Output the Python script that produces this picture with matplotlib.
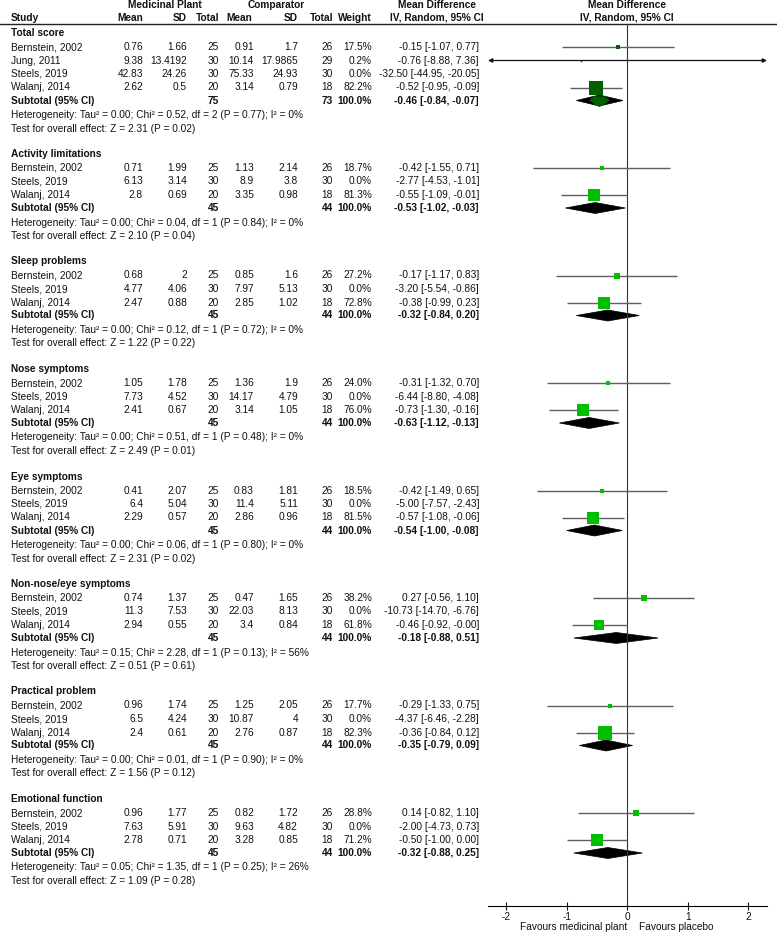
import matplotlib
matplotlib.use("Agg")
import matplotlib.pyplot as plt
from matplotlib.patches import Polygon

plt.rcParams['font.family'] = ['Liberation Sans', 'DejaVu Sans']

# ---- data ----
outcomes = ["Total score", "Activity limitations", "Sleep problems", "Nose symptoms",
            "Eye symptoms", "Non-nose/eye symptoms", "Practical problem", "Emotional function"]

study_outcome = [0, 0, 0, 0, 1, 1, 1, 2, 2, 2, 3, 3, 3, 4, 4, 4, 5, 5, 5, 6, 6, 6, 7, 7, 7]
study_name = ["Bernstein, 2002", "Jung, 2011", "Steels, 2019", "Walanj, 2014"] + \
             ["Bernstein, 2002", "Steels, 2019", "Walanj, 2014"] * 7

mp_mean = [0.76, 9.38, 42.83, 2.62, 0.71, 6.13, 2.8, 0.68, 4.77, 2.47, 1.05, 7.73, 2.41,
           0.41, 6.4, 2.29, 0.74, 11.3, 2.94, 0.96, 6.5, 2.4, 0.96, 7.63, 2.78]
mp_sd = [1.66, 13.4192, 24.26, 0.5, 1.99, 3.14, 0.69, 2, 4.06, 0.88, 1.78, 4.52, 0.67,
         2.07, 5.04, 0.57, 1.37, 7.53, 0.55, 1.74, 4.24, 0.61, 1.77, 5.91, 0.71]
mp_n = [25, 30, 30, 20] + [25, 30, 20] * 7
cp_mean = [0.91, 10.14, 75.33, 3.14, 1.13, 8.9, 3.35, 0.85, 7.97, 2.85, 1.36, 14.17, 3.14,
           0.83, 11.4, 2.86, 0.47, 22.03, 3.4, 1.25, 10.87, 2.76, 0.82, 9.63, 3.28]
cp_sd = [1.7, 17.9865, 24.93, 0.79, 2.14, 3.8, 0.98, 1.6, 5.13, 1.02, 1.9, 4.79, 1.05,
         1.81, 5.11, 0.96, 1.65, 8.13, 0.84, 2.05, 4, 0.87, 1.72, 4.82, 0.85]
cp_n = [26, 29, 30, 18] + [26, 30, 18] * 7
weight = [17.5, 0.2, 0.0, 82.2, 18.7, 0.0, 81.3, 27.2, 0.0, 72.8, 24.0, 0.0, 76.0,
          18.5, 0.0, 81.5, 38.2, 0.0, 61.8, 17.7, 0.0, 82.3, 28.8, 0.0, 71.2]
md = [-0.15, -0.76, -32.50, -0.52, -0.42, -2.77, -0.55, -0.17, -3.20, -0.38, -0.31, -6.44, -0.73,
      -0.42, -5.00, -0.57, 0.27, -10.73, -0.46, -0.29, -4.37, -0.36, 0.14, -2.00, -0.50]
md_lo = [-1.07, -8.88, -44.95, -0.95, -1.55, -4.53, -1.09, -1.17, -5.54, -0.99, -1.32, -8.80, -1.30,
         -1.49, -7.57, -1.08, -0.56, -14.70, -0.92, -1.33, -6.46, -0.84, -0.82, -4.73, -1.00]
md_hi = [0.77, 7.36, -20.05, -0.09, 0.71, -1.01, -0.01, 0.83, -0.86, 0.23, 0.70, -4.08, -0.16,
         0.65, -2.43, -0.06, 1.10, -6.76, -0.0, 0.75, -2.28, 0.12, 1.10, 0.73, 0.0]

sub_n_mp = [75, 45, 45, 45, 45, 45, 45, 45]
sub_n_cp = [73, 44, 44, 44, 44, 44, 44, 44]
sub_md = [-0.46, -0.53, -0.32, -0.63, -0.54, -0.18, -0.35, -0.32]
sub_lo = [-0.84, -1.02, -0.84, -1.12, -1.00, -0.88, -0.79, -0.88]
sub_hi = [-0.07, -0.03, 0.20, -0.13, -0.08, 0.51, 0.09, 0.25]
het_tau2 = [0.00, 0.00, 0.00, 0.00, 0.00, 0.15, 0.00, 0.05]
het_chi2 = [0.52, 0.04, 0.12, 0.51, 0.06, 2.28, 0.01, 1.35]
het_df = [2, 1, 1, 1, 1, 1, 1, 1]
het_p = [0.77, 0.84, 0.72, 0.48, 0.80, 0.13, 0.90, 0.25]
het_i2 = [0, 0, 0, 0, 0, 56, 0, 26]
z_val = [2.31, 2.10, 1.22, 2.49, 2.31, 0.51, 1.56, 1.09]
z_p = [0.02, 0.04, 0.22, 0.01, 0.02, 0.61, 0.12, 0.28]

x_ticks = [-2, -1, 0, 1, 2]

# ---- layout (pixel units, figure is 777 x 933) ----
W, H = 777, 933
FS = 7.3
TXT = '#111111'
GREEN = '#00BE00'
DARK_GREEN = '#006000'
LINE = '#5f5f5f'
X_MIN, X_MAX = -2.3, 2.31
PANEL_L, PANEL_R = 488, 767
HEAD_LINE, AXIS_Y = 24, 906

fig = plt.figure(figsize=(W / 100, H / 100), dpi=100)
ax_t = fig.add_axes([0, 0, 1, 1])
ax_t.set_xlim(0, W)
ax_t.set_ylim(H, 0)
ax_t.axis('off')

ax_p = fig.add_axes([PANEL_L / W, 1 - AXIS_Y / H, (PANEL_R - PANEL_L) / W, (AXIS_Y - HEAD_LINE) / H])
ax_p.set_xlim(X_MIN, X_MAX)
ax_p.set_ylim(AXIS_Y, HEAD_LINE)
ax_p.patch.set_visible(False)
for s in ['top', 'left', 'right']:
    ax_p.spines[s].set_visible(False)
ax_p.spines['bottom'].set_linewidth(0.8)
ax_p.set_yticks([])
ax_p.set_xticks(x_ticks)
ax_p.set_xticklabels([str(t) for t in x_ticks])
ax_p.tick_params(axis='x', direction='inout', length=6, width=0.8, labelsize=FS, pad=1.5, colors='#111111')
ax_p.axvline(0, color='#333333', lw=0.8)

# column right edges
C_MP_MEAN, C_MP_SD, C_MP_N = 143, 187, 219
C_CP_MEAN, C_CP_SD, C_CP_N = 254, 298, 333
C_W, C_MD = 372, 479


def txt(x, y, s, ha='right', bold=False):
    ax_t.text(x, y, s, ha=ha, va='center', fontsize=FS, color=TXT,
              fontweight='bold' if bold else 'normal')


# header
txt(165, 5, "Medicinal Plant", ha='center', bold=True)
txt(276, 5, "Comparator", ha='center', bold=True)
txt(437, 5, "Mean Difference", ha='center', bold=True)
txt(627, 5, "Mean Difference", ha='center', bold=True)
txt(11, 18, "Study", ha='left', bold=True)
for x, s in [(C_MP_MEAN, "Mean"), (C_MP_SD, "SD"), (C_MP_N, "Total"), (C_CP_MEAN - 2, "Mean"),
             (C_CP_SD, "SD"), (C_CP_N, "Total"), (C_W, "Weight")]:
    txt(x, 18, s, bold=True)
txt(437, 18, "IV, Random, 95% CI", ha='center', bold=True)
txt(627, 18, "IV, Random, 95% CI", ha='center', bold=True)
ax_t.axhline(HEAD_LINE, color='#222222', lw=1.0)

y = 33
for g, name in enumerate(outcomes):
    txt(11, y, name, ha='left', bold=True)
    y += 14
    idx = [i for i, o in enumerate(study_outcome) if o == g]
    for i in idx:
        txt(11, y, study_name[i], ha='left')
        txt(C_MP_MEAN, y, f"{mp_mean[i]:g}")
        txt(C_MP_SD, y, f"{mp_sd[i]:g}")
        txt(C_MP_N, y, f"{mp_n[i]}")
        txt(C_CP_MEAN, y, f"{cp_mean[i]:g}")
        txt(C_CP_SD, y, f"{cp_sd[i]:g}")
        txt(C_CP_N, y, f"{cp_n[i]}")
        txt(C_W, y, f"{weight[i]:.1f}%")
        txt(C_MD, y, f"{md[i]:.2f} [{md_lo[i]:.2f}, {md_hi[i]:.2f}]")
        if weight[i] > 0:
            lo_c, hi_c = max(md_lo[i], X_MIN), min(md_hi[i], X_MAX)
            if lo_c != md_lo[i] or hi_c != md_hi[i]:
                style = {(True, True): '<|-|>', (True, False): '<|-', (False, True): '-|>'}[
                    (lo_c != md_lo[i], hi_c != md_hi[i])]
                ax_p.annotate('', xy=(hi_c, y), xytext=(lo_c, y),
                              arrowprops=dict(arrowstyle=style, color='#111111', lw=0.9,
                                              mutation_scale=6, shrinkA=0, shrinkB=0))
            else:
                ax_p.plot([lo_c, hi_c], [y, y], color=LINE, lw=1.0, solid_capstyle='butt')
            side = (1.5 + 0.14 * weight[i]) * 0.72
            ax_p.plot(md[i], y, marker='s', ms=side, mew=0,
                      color=DARK_GREEN if g == 0 else GREEN)
        y += 13.5
    y -= 0.5
    txt(11, y, "Subtotal (95% CI)", ha='left', bold=True)
    txt(C_MP_N, y, f"{sub_n_mp[g]}", bold=True)
    txt(C_CP_N, y, f"{sub_n_cp[g]}", bold=True)
    txt(C_W, y, "100.0%", bold=True)
    txt(C_MD, y, f"{sub_md[g]:.2f} [{sub_lo[g]:.2f}, {sub_hi[g]:.2f}]", bold=True)
    dia = Polygon([(sub_lo[g], y), (sub_md[g], y - 5.5), (sub_hi[g], y), (sub_md[g], y + 5.5)],
                  closed=True, facecolor='black', edgecolor='black', lw=0.5)
    ax_p.add_patch(dia)
    if g == 0:
        ax_p.plot(sub_md[g], y, marker=[(-1, 0.1), (-0.55, 0.5), (0.55, 0.5), (1, 0.1), (0, -0.55)],
                  ms=15, mew=0, color=DARK_GREEN)
    y += 14.5
    txt(11, y, f"Heterogeneity: Tau\u00b2 = {het_tau2[g]:.2f}; Chi\u00b2 = {het_chi2[g]:.2f}, "
               f"df = {het_df[g]} (P = {het_p[g]:.2f}); I\u00b2 = {het_i2[g]}%", ha='left')
    y += 13.5
    txt(11, y, f"Test for overall effect: Z = {z_val[g]:.2f} (P = {z_p[g]:.2f})", ha='left')
    y += 25.5

# favours labels under the axis
ax_p.text(0.0, 927, "Favours medicinal plant", ha='right', va='center', fontsize=FS, color=TXT,
          transform=ax_p.transData, clip_on=False)
ax_p.text(0.2, 927, "Favours placebo", ha='left', va='center', fontsize=FS, color=TXT,
          transform=ax_p.transData, clip_on=False)

fig.savefig("out.png", dpi=100)
